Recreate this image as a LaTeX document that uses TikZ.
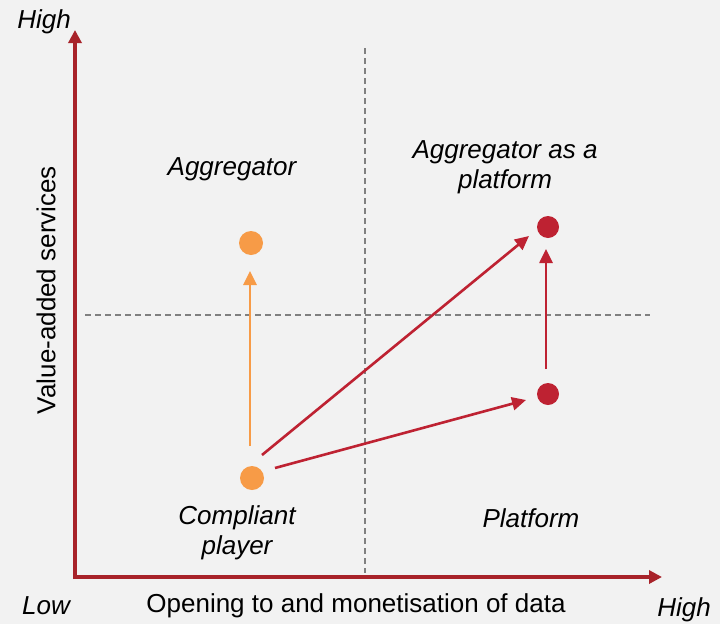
\documentclass[tikz,border=0pt]{standalone}
\usepackage{fontspec}
\setmainfont{Liberation Sans}
\usetikzlibrary{arrows.meta}
\definecolor{bg}{HTML}{F2F2F2}
\definecolor{axisred}{HTML}{A8232A}
\definecolor{dotred}{HTML}{BE2232}
\definecolor{dotorange}{HTML}{F79B47}
\definecolor{dashgray}{HTML}{808080}
\begin{document}
\begin{tikzpicture}[x=1pt,y=-1pt,
  axisline/.style={draw=axisred,line width=3.5pt,-{Triangle[length=13pt,width=13pt]}},
  guide/.style={draw=dashgray,line width=1.3pt,dash pattern=on 6pt off 4pt},
  reddot/.style={circle,fill=dotred,minimum size=22pt,inner sep=0pt},
  orangedot/.style={circle,fill=dotorange,minimum size=24pt,inner sep=0pt},
  redarrow/.style={draw=dotred,line width=2.6pt,-{Triangle[length=14pt,width=13pt]}},
  orangearrow/.style={draw=dotorange,line width=2.6pt,-{Triangle[length=14pt,width=13pt]}},
  lbl/.style={font=\fontsize{26}{30}\selectfont\itshape,align=center,inner sep=0pt},
  axlbl/.style={font=\fontsize{26}{30}\selectfont,inner sep=0pt}]
\useasboundingbox (0,0) rectangle (720,624);
\fill[bg] (0,0) rectangle (720,624);
% guides
\coordinate (vt) at (365,48);
\coordinate (vb) at (365,573);
\coordinate (hl) at (85,315);
\coordinate (hr) at (650,315);
\draw[guide] (vt) -- (vb);
\draw[guide] (hl) -- (hr);
% axes
\coordinate (ytop) at (75,30);
\coordinate (xend) at (662,577);
\draw[axisline] (75,579) -- (ytop);
\draw[axisline] (73,577) -- (xend);
% dots
\node[orangedot] (agg) at (251,243) {};
\node[orangedot] (comp) at (252,478) {};
\node[reddot] (aggp) at (548,227) {};
\node[reddot] (plat) at (548,394) {};
% arrows
\coordinate (oa1) at (250,446);
\coordinate (oa2) at (250,271);
\draw[orangearrow] (oa1) -- (oa2);
\coordinate (r1a) at (262,455);
\coordinate (r1b) at (529,236);
\draw[redarrow] (r1a) -- (r1b);
\coordinate (r2a) at (275,468);
\coordinate (r2b) at (526,400);
\draw[redarrow] (r2a) -- (r2b);
\coordinate (r3a) at (546,369);
\coordinate (r3b) at (546,249);
\draw[redarrow] (r3a) -- (r3b);
% labels
\node[lbl] (tAgg) at (232,169) {Aggregator};
\node[lbl] (tAggP) at (505,167) {Aggregator as a\\platform};
\node[lbl] (tComp) at (237,533) {Compliant\\player};
\node[lbl] (tPlat) at (531,518) {Platform};
\node[lbl] (tHigh) at (44,22) {High};
\node[lbl] (tLow) at (46,606) {Low};
\node[lbl] (tHigh2) at (684,610) {High};
\node[axlbl] (tX) at (356,606) {Opening to and monetisation of data};
\node[axlbl,rotate=90] (tY) at (46,290) {Value-added services};
\end{tikzpicture}
\end{document}
